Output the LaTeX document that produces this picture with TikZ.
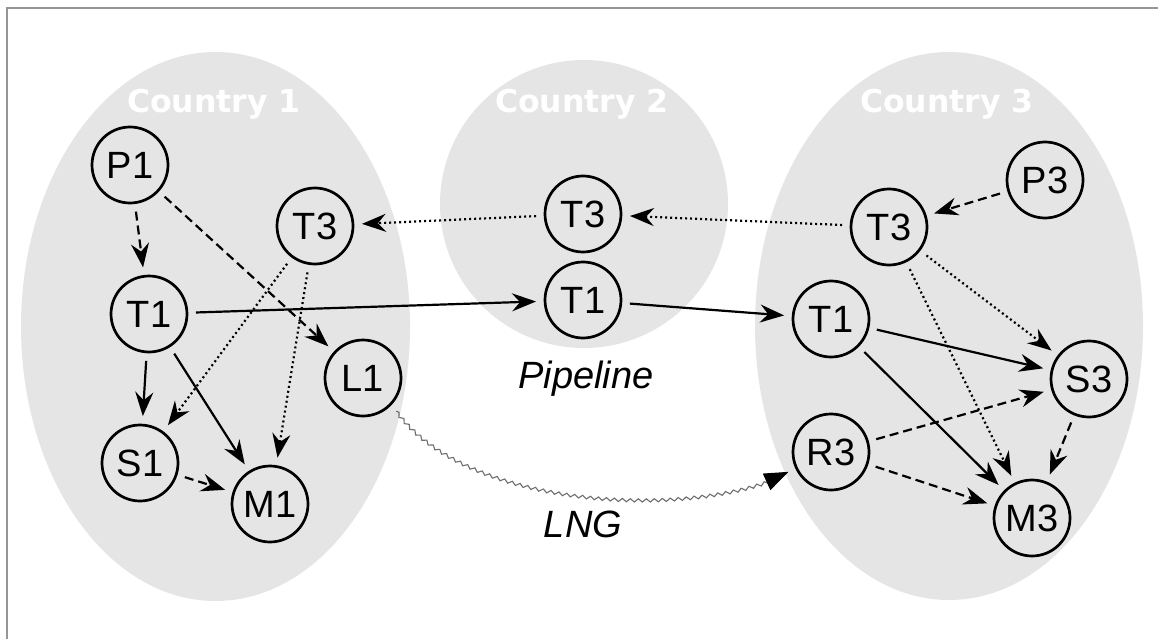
\documentclass[tikz,border=0pt]{standalone}
\usepackage{fontspec}
\setmainfont{Liberation Sans}
\newfontfamily\countryfont{DejaVu Sans}
\usetikzlibrary{arrows.meta,decorations.pathmorphing}
\definecolor{cfill}{RGB}{229,229,229}
\definecolor{framecol}{RGB}{150,150,150}
\definecolor{lnggray}{RGB}{110,110,110}
\tikzset{
  cnode/.style={draw=black, circle, line width=2.7pt, minimum size=76pt, inner sep=0pt, outer sep=9pt,
    font=\fontsize{38}{40}\selectfont},
  cntry/.style={anchor=base, text=white, font=\countryfont\bfseries\fontsize{31.5}{34}\selectfont},
  flowlabel/.style={anchor=base, font=\itshape\fontsize{38}{40}\selectfont},
  tip/.style={-{Stealth[length=24pt, width=18pt, inset=8pt]}},
  edgesolid/.style={draw, line width=2.2pt, tip},
  edgedash/.style={draw, line width=2.2pt, dash pattern=on 9pt off 5pt, tip},
  edgedot/.style={draw, line width=2.2pt, dash pattern=on 2pt off 3pt, tip},
  lng/.style={draw=lnggray, line width=1.1pt, decorate,
    decoration={snake, amplitude=1.6pt, segment length=8pt, post length=8pt},
    -{Triangle[length=24pt, width=18pt, black]}}
}
\begin{document}
\begin{tikzpicture}[x=1pt, y=-1pt]
\useasboundingbox (0,0) rectangle (1158,639);
\fill[white] (0,0) rectangle (1158,639);
\draw[framecol, line width=1.5pt] (7,639) -- (7,8) -- (1158,8);
% countries
\fill[cfill] (215.5,326.5) ellipse [x radius=194.5pt, y radius=274.5pt];
\fill[cfill] (584,204) circle [radius=144pt];
\fill[cfill] (949,326) ellipse [x radius=194pt, y radius=274pt];
\node[cntry] (c1) at (214,113) {Country 1};
\node[cntry] (c2) at (582,113) {Country 2};
\node[cntry] (c3) at (947,113) {Country 3};
% nodes country 1
\node[cnode] (P1)  at (130,165) {P1};
\node[cnode] (T3a) at (315,226) {T3};
\node[cnode] (T1a) at (149,314) {T1};
\node[cnode] (L1)  at (363,378) {L1};
\node[cnode] (S1)  at (140,463) {S1};
\node[cnode] (M1)  at (270,504) {M1};
% country 2
\node[cnode] (T3b) at (583,214) {T3};
\node[cnode] (T1b) at (583,300) {T1};
% country 3
\node[cnode] (P3)  at (1045,180) {P3};
\node[cnode] (T3c) at (889,227) {T3};
\node[cnode] (T1c) at (831,319) {T1};
\node[cnode] (S3)  at (1089,379) {S3};
\node[cnode] (R3)  at (831,452) {R3};
\node[cnode] (M3)  at (1032,518) {M3};
% labels
\node[flowlabel] (pipe) at (586,388) {Pipeline};
\node[flowlabel] (lngl) at (583,537) {LNG};
% edges country 1
\path[edgedash] (P1) -- (T1a);
\path[edgedash] (P1) -- (L1);
\path[edgedot] (T3a) -- (S1);
\path[edgedot] (T3a) -- (M1);
\path[edgesolid] (T1a) -- (S1);
\path[edgesolid] (T1a) -- (M1);
\path[edgedash] (S1) -- (M1);
% between countries
\path[edgesolid] (T1a) -- (T1b);
\path[edgesolid] (T1b) -- (T1c);
\path[edgedot] (T3b) -- (T3a);
\path[edgedot] (T3c) -- (T3b);
\path[lng] (L1.-45) .. controls +(72,97) and +(-97,47) .. (R3.205);
% edges country 3
\path[edgedash] (P3) -- (T3c);
\path[edgedot] (T3c) -- (S3);
\path[edgedot] (T3c) -- (M3);
\path[edgesolid] (T1c) -- (S3);
\path[edgesolid] (T1c) -- (M3);
\path[edgedash] (R3) -- (S3);
\path[edgedash] (R3) -- (M3);
\path[edgedash] (S3) -- (M3);
\end{tikzpicture}
\end{document}
